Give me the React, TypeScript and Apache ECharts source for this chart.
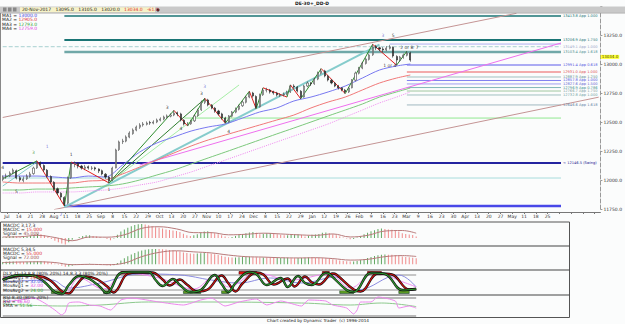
import React, { useEffect, useRef } from "react";
import * as echarts from "echarts";

const SLOTS = 175;
const CATS = Array.from({ length: SLOTS }, (_, i) => String(i));

// [open, close, low, high]
const candles: number[][] = [
  [12005,12026,11990,12040],[12030,12034,12010,12055],[12035,12060,12025,12075],[12062,12086,12050,12100],
  [12080,12017,12005,12090],[12020,12000,11985,12035],[11995,12009,11980,12030],[12010,12034,12000,12050],
  [12030,12052,12020,12070],[12055,12103,12045,12115],[12105,12147,12095,12165],[12150,12129,12110,12160],
  [12125,12086,12070,12135],[12085,12034,12020,12095],[12030,11983,11970,12040],[11980,11922,11905,11990],
  [11925,11888,11870,11935],[11885,11853,11830,11895],[11850,11793,11776,11860],[11800,12017,11790,12030],
  [12020,12138,12010,12155],[12135,12147,12110,12160],[12145,12121,12100,12150],[12120,12103,12090,12130],
  [12100,12112,12085,12130],[12115,12103,12090,12125],[12100,12103,12085,12120],[12105,12095,12080,12115],
  [12095,12078,12060,12100],[12080,12052,12040,12090],[12050,12026,12010,12060],[12025,11991,11975,12035],
  [11995,12103,11990,12115],[12105,12259,12100,12270],[12262,12328,12250,12340],[12330,12336,12310,12355],
  [12335,12371,12325,12385],[12370,12405,12360,12420],[12400,12431,12390,12445],[12430,12457,12420,12470],
  [12455,12474,12440,12490],[12475,12483,12460,12500],[12480,12491,12470,12505],[12495,12491,12475,12510],
  [12490,12500,12480,12515],[12500,12517,12490,12530],[12515,12526,12505,12540],[12525,12543,12515,12555],
  [12540,12552,12530,12565],[12550,12560,12540,12575],[12560,12578,12550,12600],[12580,12569,12550,12590],
  [12570,12517,12505,12580],[12515,12483,12470,12525],[12480,12483,12465,12500],[12485,12509,12475,12520],
  [12510,12552,12500,12565],[12555,12603,12545,12615],[12605,12672,12595,12685],[12670,12690,12655,12705],
  [12690,12647,12635,12700],[12645,12621,12610,12655],[12620,12595,12580,12630],[12595,12569,12555,12605],
  [12570,12534,12520,12580],[12535,12500,12490,12545],[12500,12552,12495,12560],[12550,12586,12540,12595],
  [12585,12612,12575,12625],[12610,12638,12600,12650],[12640,12672,12630,12685],[12670,12715,12660,12725],
  [12715,12750,12705,12765],[12750,12724,12710,12760],[12720,12629,12615,12730],[12630,12733,12625,12745],
  [12735,12776,12725,12790],[12775,12776,12755,12795],[12775,12759,12745,12785],[12760,12750,12735,12770],
  [12750,12733,12720,12760],[12730,12733,12715,12750],[12735,12741,12720,12755],[12740,12759,12730,12770],
  [12760,12810,12750,12820],[12810,12802,12790,12825],[12800,12767,12755,12810],[12765,12715,12700,12775],
  [12715,12810,12710,12820],[12810,12836,12800,12850],[12835,12828,12810,12845],[12830,12871,12820,12880],
  [12870,12922,12860,12935],[12920,12940,12910,12960],[12940,12897,12885,12950],[12895,12862,12850,12905],
  [12860,12836,12825,12870],[12835,12810,12800,12845],[12810,12793,12780,12820],[12795,12776,12765,12800],
  [12775,12759,12745,12785],[12760,12793,12750,12800],[12795,12862,12790,12870],[12860,12922,12850,12935],
  [12920,12965,12910,12975],[12965,13009,12955,13020],[13005,13043,12995,13055],[13040,13078,13030,13090],
  [13080,13147,13070,13170],[13150,13138,13120,13165],[13140,13129,13110,13150],[13130,13121,13100,13145],
  [13120,13138,13110,13155],[13135,13147,13125,13165],[13145,13069,13055,13150],[13065,13034,12990,13075],
  [13030,13060,13020,13070],[13060,13078,13045,13090],[13075,13095,13065,13110],[13095,13034,13020,13105],
];

const maIdx = [0,5,10,15,20,25,30,35,40,45,50,55,60,65,70,75,80,85,90,95,100,105,110,115,119];
const ma1 = [12034,12034,12034,12026,12017,12034,12026,12129,12241,12319,12371,12422,12457,12483,12534,12586,12621,12681,12715,12759,12810,12879,12948,12983,13000];
const ma2 = [11983,11974,11974,11974,11974,11991,12000,12052,12112,12172,12233,12293,12345,12388,12431,12474,12517,12560,12621,12672,12715,12776,12836,12879,12905];
const ma3 = [11914,11914,11922,11922,11931,11940,11948,11966,12000,12043,12086,12138,12190,12241,12293,12345,12397,12448,12500,12552,12603,12655,12715,12759,12793];
const ma4 = [11888,11888,11897,11897,11897,11905,11914,11931,11957,11983,12026,12069,12121,12172,12224,12276,12328,12379,12431,12483,12543,12603,12664,12715,12759];

const zzIdx = [0,10,18,20,31,50,54,59,65,72,74,76,83,84,87,93,100,108,115,118];
const zzPrice = [12010,12165,11776,12155,11975,12600,12465,12705,12490,12765,12615,12795,12715,12820,12700,12960,12745,13170,12990,13110];

// trend lines: start index, start price, end index, end price
const trendFrom = [0, 15, 18, 40, 31, 31, 0];
const trendFromP = [12539, 11745, 11766, 12129, 11974, 11974, 11948];
const trendTo = [150, 174, 110, 163, 69, 59, 10];
const trendToP = [13437, 12714, 13167, 13181, 12819, 12700, 12155];
const trendColor = ["#c49494", "#c49494", "#86cccc", "#ee70ee", "#a6eea6", "#2e7e2e", "#86cccc"];
const trendWidth = [1, 1, 2, 1, 1, 1, 1];

const levelPrice = [13414, 13207, 13149, 13172, 13103, 12991, 12931, 12888, 12858, 12828, 12797, 12767, 12733, 12647, 12534, 12147, 12017, 11776];
const levelStart = [18, 18, 0, 113, 18, 118, 118, 118, 118, 118, 118, 118, 118, 118, 53, 0, 0, 18];
const levelEnd = [163, 163, 163, 163, 163, 163, 163, 163, 163, 163, 163, 163, 163, 163, 163, 163, 163, 163];
const levelLabel = [
  "13413.8 App 1.000", "13206.9 App 1.750", "13149.1 App 1.000", "", "13103.4 App 1.618",
  "12991.4 App 0.618", "12931.0 App 1.000", "12887.9 App 1.250", "12857.8 App 1.000", "12827.6 App 1.500",
  "12796.9 App 0.786", "12766.7 App 1.750", "12732.8 App 1.000", "12646.6 App 1.618", "",
  "< 12146.5 (Swing)", "", "",
];
const levelColor = ["#1a7575","#1a7575","#a8d0d0","#b0b0f0","#70a8a8","#9090f0","#f09090","#a0c0c0","#8080f0","#a0a0f0","#80b8b8","#a0c8a0","#a0c0c0","#a0b8c0","#90e890","#2424a0","#a8dcdc","#4848e8"];
const levelTextColor = ["#1a7575","#1a7575","#9aa6c8","#9aa6c8","#4f8f8f","#5050e0","#e05050","#5f8f8f","#5050e0","#6060d0","#3f8f8f","#7f9f9f","#6f9f9f","#5f7f9f","#5f9f5f","#202090","#7fbfbf","#4848e8"];
const levelWidth = [1.5,2,1,1,2.5,1.5,1.5,1,1,1,1,1,1,1,1,2,1,2.5];

const noteIdx = [0, 4, 9, 13, 20, 17, 31, 48, 52, 58, 59, 66, 111, 114, 113, 118, 121];
const notePrice = [12112, 11897, 12241, 12293, 12216, 11700, 11914, 12629, 12440, 12750, 12810, 12414, 13250, 13250, 12991, 13138, 13138];
const noteText = ["4", "5", "3", "1", "1", "2", "1", "3", "4", "3", "3", "4", "3", "5", "1 or 4", "2 or B", "7"];
const noteColor = ["#000","#000","#2a8a2a","#6060d0","#000","#4040d0","#000","#000","#000","#000","#6060d0","#000","#6060d0","#000","#000","#000","#000"];

const weekLabels = ["Jul","14","21","28","Aug","11","18","25","Sep","8","15","22","29","Oct","13","20","27","Nov","10","17","24","Dec","8","15","22","29","Jan","12","19","26","Feb","9","16","23","Mar","9","16","23","30","Apr","13","20","27","May","11","18","25","","","",""];

const macd1 = [5,10,15,20,15,10,10,15,20,30,
  40,35,25,10,-10,-25,-40,-50,-60,-40,
  -15,0,10,20,25,25,20,15,10,0,
  -10,-20,-5,30,60,80,95,110,120,128,
  130,125,118,110,100,95,88,80,75,70,
  65,55,40,25,20,25,35,50,60,62,
  55,45,35,25,15,5,10,20,30,38,
  45,52,55,50,35,40,45,45,40,35,
  30,25,25,28,35,35,28,15,22,30,
  32,38,48,52,45,35,25,15,5,-5,
  -12,-8,5,20,35,50,62,72,85,88,
  85,80,78,75,60,45,38,32,28,15];
const sig1 = [10,12,25,5,-25,10,8,30,90,105,85,50,50,30,35,45,38,30,25,38,10,25,65,70,45];

const macd2 = [20,22,24,25,24,22,20,20,22,25,
  28,28,25,20,12,5,-5,-15,-25,-22,
  -15,-8,-3,0,2,3,2,0,-3,-6,
  -10,-14,-10,10,35,55,75,90,105,118,
  128,135,140,142,143,142,140,137,133,128,
  124,118,110,104,100,98,99,102,104,103,
  98,92,85,78,70,64,62,63,65,68,
  70,70,65,64,63,63,62,60,58,58,
  58,60,60,56,55,57,58,60,63,62,
  60,58,56,54,50,45,40,35,30,26,
  24,25,30,38,48,58,68,76,84,88,
  90,89,87,84,78,72,68,64,60,55];
const sig2 = [15,20,22,15,-5,-2,-5,10,70,110,125,115,105,85,70,66,60,58,60,52,38,45,70,80,72];

const dlxKIdx = [0,5,9,12,15,17,19,22,25,28,30,31,34,37,42,44,46,49,51,54,57,61,63,65,67,71,73,76,80,82,85,87,89,93,94,99,101,106,110,115,119];
const dlxK = [60,80,76,52,12,4,40,76,64,32,8,20,88,92,92,60,36,64,40,12,20,80,44,12,48,92,84,40,68,32,76,48,40,88,84,20,12,88,84,20,24];
const dlxDIdx = [0,6,11,14,17,19,21,24,27,30,32,33,36,39,43,46,48,51,53,56,59,63,65,67,69,73,75,78,82,84,87,89,91,95,96,101,103,108,112,117,119];
const dlxD = [62,78,74,55,15,6,36,74,64,35,10,22,85,90,90,62,38,62,42,14,22,78,46,14,46,90,82,42,66,34,74,50,42,86,82,22,14,86,82,22,24];
const dlxBlueIdx = [0,14,19,28,40,51,60,68,77,86,96,102,114,119];
const dlxBlue = [52,60,28,48,84,80,60,48,68,48,72,20,80,32];
const dlxPinkIdx = [0,11,18,22,29,35,45,55,61,65,73,83,94,100,107,116,119];
const dlxPink = [72,76,8,68,24,88,68,24,76,32,88,60,84,28,88,48,32];
const obZones = [[34, 42], [68, 73], [92, 94], [105, 109]];
const osZones = [[14, 17], [29, 31], [52, 57], [63, 65], [97, 101], [114, 117]];
const bandLevels = [80, 20];

const rsiIdx = [0,5,9,12,15,17,18,19,22,25,28,31,34,37,45,52,57,60,64,68,73,76,80,86,88,93,95,99,101,102,103,106,108,113,114,117,119];
const rsi = [66.8,73.4,80,63.4,40.2,23.6,33.6,63.4,66.8,56.8,53.5,40.2,73.4,80,66.8,56.8,73.4,80,53.5,66.8,76.7,56.8,70,53.5,73.4,70,56.8,46.8,26.9,40.2,66.8,66.8,83.4,70,46.8,53.5,46.6];
const emaIdx = [0,17,28,42,57,86,100,109,119];
const ema = [60,53.5,56.8,66.8,66.8,63.4,56.8,63.4,51.56];

const FONT = "DejaVu Sans";

function pairs(idx: number[], vals: number[]) {
  return idx.map((ix, k) => [ix, vals[k]]);
}

function lineSeries(gi: number, data: any[], color: string, width: number, extra: any = {}) {
  return {
    type: "line", xAxisIndex: gi === 0 ? 0 : gi + 1, yAxisIndex: gi, data, symbol: "none",
    lineStyle: { color, width }, silent: true, z: 3, ...extra,
  };
}

function buildOption() {
  const last = candles[candles.length - 1];
  const series: any[] = [];

  levelPrice.forEach((p, k) => {
    series.push(lineSeries(0, [[levelStart[k], p], [levelEnd[k], p]], levelColor[k], levelWidth[k], {
      lineStyle: { color: levelColor[k], width: levelWidth[k], type: k === 2 ? "dashed" : "solid" },
      endLabel: levelLabel[k]
        ? { show: true, formatter: levelLabel[k], color: levelTextColor[k], fontSize: 3.6, fontFamily: FONT, distance: 2 }
        : { show: false },
      z: 2,
    }));
  });
  trendFrom.forEach((s, k) => {
    series.push(lineSeries(0, [[s, trendFromP[k]], [trendTo[k], trendToP[k]]], trendColor[k], trendWidth[k], { z: 2 }));
  });
  series.push(lineSeries(0, pairs(maIdx, ma4), "#f090f0", 1, { smooth: 0.3, lineStyle: { color: "#f090f0", width: 1, type: "dotted" } }));
  series.push(lineSeries(0, pairs(maIdx, ma3), "#7cc87c", 1, { smooth: 0.3 }));
  series.push(lineSeries(0, pairs(maIdx, ma2), "#f07878", 1, { smooth: 0.3 }));
  series.push(lineSeries(0, pairs(maIdx, ma1), "#7878f0", 1, { smooth: 0.3 }));
  for (let k = 0; k < zzIdx.length - 1; k++) {
    const up = zzPrice[k + 1] > zzPrice[k];
    series.push(lineSeries(0, [[zzIdx[k], zzPrice[k]], [zzIdx[k + 1], zzPrice[k + 1]]], up ? "#2e8e2e" : "#e02020", 1, { z: 4 }));
  }
  series.push({
    type: "candlestick", xAxisIndex: 0, yAxisIndex: 0, data: candles, barWidth: 1.6, z: 5,
    itemStyle: { color: "#ffffff", color0: "#2a2a2a", borderColor: "#444444", borderColor0: "#2a2a2a", borderWidth: 0.6 },
  });
  series.push({
    type: "scatter", xAxisIndex: 0, yAxisIndex: 0, symbolSize: 0, clip: false, z: 8,
    data: noteIdx.map((ix, k) => ({
      value: [ix, notePrice[k]],
      label: { show: true, formatter: noteText[k], color: noteColor[k], fontSize: 4.5, fontFamily: FONT, position: "inside" },
    })),
  });
  series.push({
    type: "scatter", xAxisIndex: 0, yAxisIndex: 0, symbolSize: 0, clip: false, z: 20,
    data: [[SLOTS - 1, last[1]]],
    label: {
      show: true, position: "right", distance: 2, formatter: last[1].toFixed(1), fontSize: 4, fontFamily: FONT,
      color: "#000", backgroundColor: "#ffff00", padding: [0, 1, 0, 1], offset: [0, -3.2],
    },
  });

  const barColor = (arr: number[]) => arr.map((v, i) => ({
    value: v, itemStyle: { color: i > 0 && v < arr[i - 1] ? "#f08a8a" : "#62a862" },
  }));
  series.push({ type: "bar", xAxisIndex: 2, yAxisIndex: 1, data: barColor(macd1), barWidth: 1, silent: true });
  series.push(lineSeries(1, pairs(maIdx, sig1), "#b87a7a", 1, { smooth: 0.4 }));
  series.push({ type: "bar", xAxisIndex: 3, yAxisIndex: 2, data: barColor(macd2), barWidth: 1, silent: true });
  series.push(lineSeries(2, pairs(maIdx, sig2), "#b87a7a", 1, { smooth: 0.4 }));

  bandLevels.forEach((b) => series.push(lineSeries(3, [[0, b], [candles.length - 1, b]], "#b4b4b4", 1.5, { z: 1 })));
  series.push(lineSeries(3, [[0, 50], [0, 50]], "#fff", 0, {
    z: 1,
    markArea: {
      silent: true,
      data: [
        ...obZones.map(([s, e]) => [{ xAxis: s, yAxis: 80, itemStyle: { color: "#dd1010", borderColor: "#400", borderWidth: 0.6 } }, { xAxis: e, yAxis: 94 }]),
        ...osZones.map(([s, e]) => [{ xAxis: s, yAxis: 6, itemStyle: { color: "#5a9a22", borderColor: "#243", borderWidth: 0.6 } }, { xAxis: e, yAxis: 20 }]),
      ],
    },
  }));
  series.push(lineSeries(3, pairs(dlxBlueIdx, dlxBlue), "#8c8ce0", 1, { smooth: 0.4 }));
  series.push(lineSeries(3, pairs(dlxPinkIdx, dlxPink), "#f08cf0", 1, { smooth: 0.4 }));
  series.push(lineSeries(3, pairs(dlxDIdx, dlxD), "#111", 2.4, { smooth: 0.4, z: 4 }));
  series.push(lineSeries(3, pairs(dlxDIdx, dlxD), "#c81010", 1.2, { smooth: 0.4, z: 5 }));
  series.push(lineSeries(3, pairs(dlxKIdx, dlxK), "#111", 2.4, { smooth: 0.4, z: 6 }));
  series.push(lineSeries(3, pairs(dlxKIdx, dlxK), "#2e9a2e", 1.2, { smooth: 0.4, z: 7 }));

  bandLevels.forEach((b) => series.push(lineSeries(4, [[0, b], [candles.length - 1, b]], "#b8b8b8", 2, { z: 1 })));
  series.push(lineSeries(4, pairs(emaIdx, ema), "#8cc88c", 1, { smooth: 0.4 }));
  series.push(lineSeries(4, pairs(rsiIdx, rsi), "#ec88ec", 1, { smooth: 0.2 }));

  const hiddenX = (gi: number) => ({
    type: "category", gridIndex: gi, data: CATS, boundaryGap: true, show: false,
  });

  const rich = {
    k: { fill: "#222", fontSize: 4.5, fontFamily: FONT },
    r: { fill: "#e03030", fontSize: 4.5, fontFamily: FONT },
    b: { fill: "#4040e0", fontSize: 4.5, fontFamily: FONT },
    g: { fill: "#30a030", fontSize: 4.5, fontFamily: FONT },
    m: { fill: "#e040e0", fontSize: 4.5, fontFamily: FONT },
    n: { fill: "#a05050", fontSize: 4.5, fontFamily: FONT },
  };
  const txt = (x: number, y: number, text: string, size = 4.5, extra: any = {}) => ({
    type: "text", x, y, z: 60,
    style: { text, fontSize: size, fontFamily: FONT, fill: "#222", verticalAlign: "middle", rich, ...extra },
  });
  const hline = (x1: number, x2: number, y: number, color: string, w: number, z = 55) => ({
    type: "line", z, shape: { x1, y1: y, x2, y2: y }, style: { stroke: color, lineWidth: w },
  });
  const vline = (x: number, y1: number, y2: number, color: string, w: number, z = 55) => ({
    type: "line", z, shape: { x1: x, y1, x2: x, y2 }, style: { stroke: color, lineWidth: w },
  });

  const m1Last = macd1[macd1.length - 1];
  const s1Last = sig1[sig1.length - 1];
  const m2Last = macd2[macd2.length - 1];
  const s2Last = sig2[sig2.length - 1];

  const graphic = [
    { type: "rect", z: 50, shape: { x: 0, y: 6.5, width: 625, height: 6.5 }, style: { fill: "#c9c9c9" } },
    hline(0, 625, 13.2, "#9a9a9a", 0.6),
    txt(312, 3.5, "DE-30+_DD-D", 4.5, { align: "center", fontWeight: "bold" }),
    { type: "rect", z: 52, shape: { x: 3, y: 7.5, width: 3.5, height: 4 }, style: { fill: "#888" } },
    { type: "rect", z: 52, shape: { x: 8, y: 7.5, width: 3.5, height: 4 }, style: { fill: "#888" } },
    { type: "rect", z: 52, shape: { x: 13, y: 7.5, width: 3.5, height: 4 }, style: { fill: "#888" } },
    { type: "rect", z: 52, shape: { x: 20, y: 7.3, width: 135, height: 5 }, style: { fill: "#f6f2c8" } },
    txt(22, 9.9, `{k|20-Nov-2017   ${last[0].toFixed(1)}   ${last[3].toFixed(1)}   ${last[2].toFixed(1)}   }{r|${last[1].toFixed(1)}   ${(last[1] - last[0]).toFixed(1)}}`),
    { type: "circle", z: 52, shape: { cx: 158, cy: 9.9, r: 1.5 }, style: { fill: "#222" } },
    txt(2, 15.5, `{k|MA1 = }{b|${ma1[ma1.length - 1].toFixed(1)}}`),
    txt(2, 19.8, `{k|MA2 = }{r|${ma2[ma2.length - 1].toFixed(1)}}`),
    txt(2, 24.1, `{k|MA3 = }{g|${ma3[ma3.length - 1].toFixed(1)}}`),
    txt(2, 28.4, `{k|MA4 = }{m|${ma4[ma4.length - 1].toFixed(1)}}`),
    vline(0.5, 13, 212, "#888", 1),
    { type: "rect", z: 55, shape: { x: 0.5, y: 222, width: 569, height: 95.5 }, style: { fill: "none", stroke: "#555", lineWidth: 1 } },
    hline(0.5, 569.5, 246, "#444", 1.2),
    hline(0.5, 569.5, 270, "#444", 1.2),
    hline(0.5, 569.5, 295, "#444", 1.2),
    txt(3, 225, "MACDC 3,17,3"),
    txt(3, 229.2, `{k|MACDC = }{r|${m1Last.toFixed(3)}}`),
    txt(3, 233.4, `{k|Signal = }{n|${s1Last.toFixed(3)}}`),
    txt(3, 249.2, "MACDC 5,34,5"),
    txt(3, 253.4, `{k|MACDC = }{r|${m2Last.toFixed(3)}}`),
    txt(3, 257.6, `{k|Signal = }{n|${s2Last.toFixed(3)}}`),
    txt(3, 273.2, "DLX 21,13,8,8 (80% 20%) 14,8,3,3 (80% 20%)"),
    txt(3, 277.4, `{k|MovAvg1 = }{r|${dlxD[dlxD.length - 1].toFixed(2)}}`),
    txt(3, 281.6, `{k|MovAvg2 = }{b|${dlxBlue[dlxBlue.length - 1].toFixed(2)}}`),
    txt(3, 285.8, `{k|MovAvg1 = }{m|${dlxPink[dlxPink.length - 1].toFixed(2)}}`),
    txt(3, 290, `{k|MovAvg2 = }{g|${dlxK[dlxK.length - 1].toFixed(2)}}`),
    txt(3, 297.4, "RSI 8,30 (80% 20%)"),
    txt(3, 301.6, `{k|RSI = }{m|${rsi[rsi.length - 1].toFixed(2)}}`),
    txt(3, 305.8, `{k|EMA = }{g|${ema[ema.length - 1].toFixed(2)}}`),
    txt(318, 320.8, "Chart created by Dynamic Trader  (c) 1996-2014", 4.2, { align: "center" }),
  ];

  return {
    animation: false,
    backgroundColor: "#fbfcfc",
    textStyle: { fontFamily: FONT },
    grid: [
      { left: 1, right: 16, top: 6, height: 203 },
      { left: 1, right: 16, top: 222, height: 24 },
      { left: 1, right: 16, top: 246, height: 24 },
      { left: 1, right: 16, top: 270, height: 25 },
      { left: 1, right: 16, top: 295, height: 22 },
    ],
    xAxis: [
      hiddenX(0),
      {
        type: "category", gridIndex: 0, data: weekLabels, position: "bottom", offset: 3, boundaryGap: true,
        axisLine: { show: true, lineStyle: { color: "#777", width: 1 } },
        axisTick: { show: true, alignWithLabel: true, length: 2, lineStyle: { color: "#777" } },
        axisLabel: { interval: 0, fontSize: 4.5, margin: 2, color: "#333", fontFamily: FONT },
        splitLine: { show: false },
      },
      hiddenX(1), hiddenX(2), hiddenX(3), hiddenX(4),
    ],
    yAxis: [
      {
        type: "value", gridIndex: 0, position: "right", min: 11750, max: 13500, interval: 250, scale: false,
        axisLine: { show: true, lineStyle: { color: "#999", type: "dashed", width: 1 } },
        axisTick: { show: true, length: 2, lineStyle: { color: "#999" } },
        splitLine: { show: false },
        axisLabel: {
          fontSize: 4.5, margin: 3, color: "#333", fontFamily: FONT,
          formatter: (v: number) => (v > 13400 ? "" : v.toFixed(1)),
        },
      },
      { type: "value", gridIndex: 1, min: -74, max: 149, show: false, splitLine: { show: false } },
      { type: "value", gridIndex: 2, min: -55, max: 170, show: false, splitLine: { show: false } },
      { type: "value", gridIndex: 3, min: 0, max: 100, show: false, splitLine: { show: false } },
      { type: "value", gridIndex: 4, min: 17, max: 90, show: false, splitLine: { show: false } },
    ],
    graphic,
    series,
  };
}

export default function App() {
  const ref = useRef<HTMLDivElement>(null);
  useEffect(() => {
    if (!ref.current) return;
    const chart = echarts.init(ref.current, null, { renderer: "svg" });
    chart.setOption(buildOption() as any);
    return () => chart.dispose();
  }, []);
  return <div ref={ref} style={{ position: "fixed", left: 0, top: 0, width: 625, height: 324 }} />;
}
